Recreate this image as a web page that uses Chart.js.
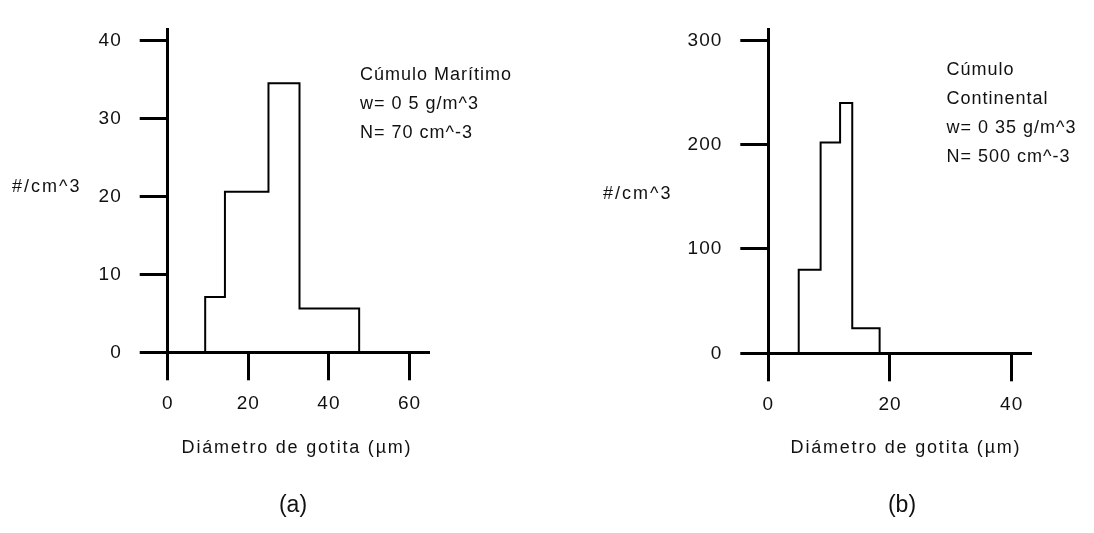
<!DOCTYPE html>
<html>
<head>
<meta charset="utf-8">
<script src="https://cdn.jsdelivr.net/npm/chart.js@4.4.1/dist/chart.umd.min.js"></script>
<style>
    html, body { margin: 0; padding: 0; background: #fff; }
    #wrap { position: relative; width: 1094px; height: 533px; }
    .box { position: absolute; top: 0; width: 547px; height: 533px; }
</style>
</head>
<body>
<div id="wrap">
    <div class="box" style="left:0"><canvas id="chartA"></canvas></div>
    <div class="box" style="left:547px"><canvas id="chartB"></canvas></div>
</div>
<script>
// (a) maritime cumulus
const binEdgesA = [9.3, 14.2, 25, 32.7, 47.5];
const countsA = [7.1, 20.6, 34.5, 5.6];
const xTicksA = [0, 20, 40, 60];
const yTicksA = [0, 10, 20, 30, 40];

// (b) continental cumulus
const binEdgesB = [5, 8.6, 11.8, 13.8, 18.3];
const countsB = [80, 202, 240, 24];
const xTicksB = [0, 20, 40];
const yTicksB = [0, 100, 200, 300];

const FONT = "'Liberation Sans', Arial, sans-serif";
const INK = '#111';

// step outline of a histogram with uneven bins
function buildPoints(edges, counts) {
    const pts = [{ x: edges[0], y: 0 }, { x: edges[0], y: counts[0] }];
    for (let i = 1; i < counts.length; i++) {
        pts.push({ x: edges[i], y: counts[i - 1] });
        pts.push({ x: edges[i], y: counts[i] });
    }
    pts.push({ x: edges[edges.length - 1], y: counts[counts.length - 1] });
    pts.push({ x: edges[edges.length - 1], y: 0 });
    return pts;
}

const spacing = {
    id: 'spacing',
    beforeDraw(chart) {
        chart.ctx.letterSpacing = '1px';
    }
};

const labels = {
    id: 'labels',
    afterDraw(chart, args, opts) {
        const ctx = chart.ctx;
        ctx.save();
        ctx.fillStyle = INK;
        ctx.textBaseline = 'middle';
        opts.items.forEach(it => {
            ctx.font = it.size + 'px ' + FONT;
            ctx.letterSpacing = (it.ls === undefined ? 1 : it.ls) + 'px';
            ctx.textAlign = it.align || 'left';
            ctx.fillText(it.text, it.x, it.y);
        });
        ctx.restore();
    }
};

function makeChart(id, edges, counts, xTicks, yTicks, xMax, yMax, padding, items) {
    const axisGrid = {
        display: true,
        drawOnChartArea: false,
        drawTicks: true,
        tickLength: 28,
        tickWidth: 3,
        tickColor: '#000'
    };
    return new Chart(document.getElementById(id), {
        type: 'line',
        data: {
            datasets: [{
                data: buildPoints(edges, counts),
                borderColor: '#000',
                borderWidth: 2,
                pointRadius: 0,
                fill: false,
                tension: 0
            }]
        },
        options: {
            responsive: true,
            maintainAspectRatio: false,
            animation: false,
            layout: { padding: padding },
            plugins: {
                legend: { display: false },
                tooltip: { enabled: false },
                labels: { items: items }
            },
            scales: {
                x: {
                    type: 'linear',
                    min: 0,
                    max: xMax,
                    grid: axisGrid,
                    border: { display: true, color: '#000', width: 3 },
                    ticks: { color: INK, padding: 12, font: { family: FONT, size: 19 } },
                    afterBuildTicks: axis => { axis.ticks = xTicks.map(v => ({ value: v })); },
                    afterFit: s => { s.height = 60; }
                },
                y: {
                    type: 'linear',
                    min: 0,
                    max: yMax,
                    grid: axisGrid,
                    border: { display: true, color: '#000', width: 3 },
                    ticks: { color: INK, padding: 18, font: { family: FONT, size: 19 } },
                    afterBuildTicks: axis => { axis.ticks = yTicks.map(v => ({ value: v })); },
                    afterFit: s => { s.width = padding.yWidth; }
                }
            }
        },
        plugins: [spacing, labels]
    });
}

makeChart('chartA', binEdgesA, countsA, xTicksA, yTicksA, 64.9, 41.4,
    { left: 0, top: 12.7, right: 117.7, bottom: 120.7, yWidth: 167.7 },
    [
        { text: '#/cm^3', x: 12, y: 187, size: 18, ls: 2 },
        { text: 'Cúmulo Marítimo', x: 360, y: 75, size: 18 },
        { text: 'w= 0 5 g/m^3', x: 360, y: 104, size: 18 },
        { text: 'N= 70 cm^-3', x: 360, y: 133, size: 18 },
        { text: 'Diámetro de gotita (µm)', x: 297, y: 448, size: 18, align: 'center', ls: 1.8 },
        { text: '(a)', x: 293, y: 506, size: 23, align: 'center', ls: 0 }
    ]);

makeChart('chartB', binEdgesB, countsB, xTicksB, yTicksB, 43.3, 310.5,
    { left: 0, top: 12.7, right: 62.3, bottom: 119.7, yWidth: 221.3 },
    [
        { text: '#/cm^3', x: 56, y: 194, size: 18, ls: 2 },
        { text: 'Cúmulo', x: 399.5, y: 70, size: 18 },
        { text: 'Continental', x: 399.5, y: 99, size: 18 },
        { text: 'w= 0 35 g/m^3', x: 399.5, y: 128, size: 18 },
        { text: 'N= 500 cm^-3', x: 399.5, y: 157, size: 18 },
        { text: 'Diámetro de gotita (µm)', x: 359, y: 448, size: 18, align: 'center', ls: 1.8 },
        { text: '(b)', x: 355, y: 506, size: 23, align: 'center', ls: 0 }
    ]);
</script>
</body>
</html>
